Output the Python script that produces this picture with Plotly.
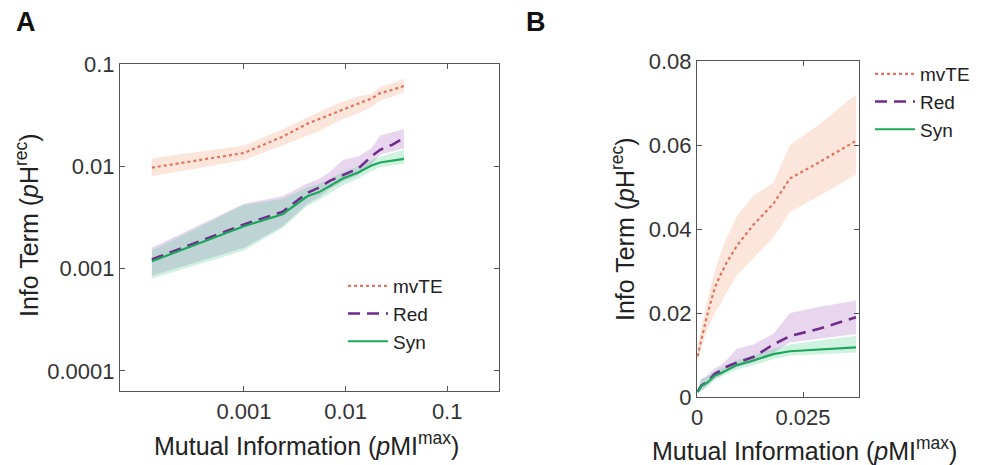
import plotly.graph_objects as go

# ---------------- data ----------------
mi = [0.000124, 0.001, 0.0024, 0.0042, 0.0055, 0.007, 0.0094, 0.0133, 0.018, 0.0219, 0.029, 0.0375]

mvte = [0.0097, 0.0135, 0.0195, 0.026, 0.029, 0.032, 0.036, 0.041, 0.046, 0.052, 0.056, 0.061]
mvte_lo = [0.0080, 0.0115, 0.016, 0.020, 0.022, 0.025, 0.029, 0.033, 0.038, 0.044, 0.048, 0.053]
mvte_hi = [0.0120, 0.0160, 0.023, 0.030, 0.034, 0.038, 0.043, 0.048, 0.051, 0.060, 0.065, 0.072]

red = [0.00123, 0.0027, 0.0036, 0.0055, 0.0062, 0.0072, 0.0082, 0.0095, 0.0125, 0.0145, 0.0163, 0.019]
red_lo = [0.00085, 0.0016, 0.0026, 0.0043, 0.005, 0.006, 0.0071, 0.0082, 0.0105, 0.013, 0.014, 0.015]
red_hi = [0.0016, 0.0043, 0.0051, 0.0068, 0.0075, 0.0088, 0.0115, 0.0125, 0.015, 0.020, 0.0215, 0.023]

syn = [0.00118, 0.0026, 0.0034, 0.0051, 0.0056, 0.0064, 0.0076, 0.0087, 0.0102, 0.0109, 0.0113, 0.0118]
syn_lo = [0.0008, 0.0015, 0.0025, 0.0041, 0.0047, 0.0054, 0.0065, 0.0076, 0.0090, 0.0098, 0.0102, 0.0106]
syn_hi = [0.0015, 0.0042, 0.0048, 0.0062, 0.0067, 0.0075, 0.0088, 0.010, 0.0115, 0.0125, 0.0135, 0.0145]

names = ["mvTE", "Red", "Syn"]
logA_xticks = [0.001, 0.01, 0.1]
logA_xtext = ["0.001", "0.01", "0.1"]
logA_yticks = [0.0001, 0.001, 0.01, 0.1]
logA_ytext = ["0.0001", "0.001", "0.01", "0.1"]
linB_xticks = [0, 0.025]
linB_xtext = ["0", "0.025"]
linB_yticks = [0, 0.02, 0.04, 0.06, 0.08]
linB_ytext = ["0", "0.02", "0.04", "0.06", "0.08"]

# ---------------- styles ----------------
series = [
    (names[0], mvte, mvte_lo, mvte_hi, "#e07460", "dot", 2.2, "rgba(245,170,135,0.30)"),
    (names[1], red, red_lo, red_hi, "#702b8c", "12px,7px", 2.6, "rgba(150,70,180,0.22)"),
    (names[2], syn, syn_lo, syn_hi, "#1da75c", "solid", 2.2, "rgba(40,200,120,0.22)"),
]

FONT = "Liberation Sans, Arial, sans-serif"
W, H = 984, 465
OFF = 8  # page body margin offset


def px(v):
    return (v - OFF) / W


def py(v):
    return 1 - (v - OFF) / H


fig = go.Figure()

for xa, ya, leg in [("x", "y", "legend"), ("x2", "y2", "legend2")]:
    for name, v, lo, hi, col, dash, w, fc in series:
        fig.add_trace(go.Scatter(
            x=mi + mi[::-1], y=hi + lo[::-1], fill="toself", fillcolor=fc,
            line=dict(width=0), mode="lines", hoverinfo="skip",
            showlegend=False, xaxis=xa, yaxis=ya))
    for name, v, lo, hi, col, dash, w, fc in series:
        fig.add_trace(go.Scatter(
            x=mi, y=v, mode="lines", name=name,
            line=dict(color=col, dash=dash, width=w),
            xaxis=xa, yaxis=ya, legend=leg))

axis_common = dict(showline=True, linecolor="#555555", linewidth=1.2, mirror="ticks",
                   ticks="inside", ticklen=5, tickcolor="#555555", showgrid=False,
                   zeroline=False, automargin=False,
                   tickfont=dict(family=FONT, size=22, color="#333333"))

fig.update_layout(
    width=W, height=H, margin=dict(l=0, r=0, t=0, b=0, pad=0, autoexpand=False),
    paper_bgcolor="white", plot_bgcolor="white",
    font=dict(family=FONT, color="#222222"),
    xaxis=dict(type="log", range=[-4.22, -0.49], domain=[px(120), px(499)],
               tickvals=logA_xticks, ticktext=logA_xtext, anchor="y", **axis_common),
    yaxis=dict(type="log", range=[-4.196, -1], domain=[py(391), py(64)],
               tickvals=logA_yticks, ticktext=logA_ytext, anchor="x", **axis_common),
    xaxis2=dict(range=[0, 0.0382], domain=[px(697), px(859)],
                tickvals=linB_xticks, ticktext=linB_xtext, anchor="y2", **axis_common),
    yaxis2=dict(range=[0, 0.08], domain=[py(397), py(61)],
                tickvals=linB_yticks, ticktext=linB_ytext, anchor="x2", **axis_common),
    legend=dict(x=px(343), y=py(267), xanchor="left", yanchor="top",
                bgcolor="rgba(0,0,0,0)", font=dict(family=FONT, size=19, color="#222222"),
                tracegroupgap=0, itemwidth=40),
    legend2=dict(x=px(870), y=py(55), xanchor="left", yanchor="top",
                 bgcolor="rgba(0,0,0,0)", font=dict(family=FONT, size=19, color="#222222"),
                 tracegroupgap=0, itemwidth=40),
    showlegend=True,
)

ann = [
    dict(text="<b>A</b>", x=px(14), y=py(22), font=dict(size=27, color="#111111")),
    dict(text="<b>B</b>", x=px(524), y=py(22), font=dict(size=27, color="#111111")),
    dict(text="Info Term (<i>p</i>H<sup>rec</sup>)", x=px(27), y=py(225),
         textangle=-90, font=dict(size=25, color="#222222"), xanchor="center"),
    dict(text="Mutual Information (<i>p</i>MI<sup>max</sup>)", x=px(306), y=py(444),
         font=dict(size=25, color="#222222"), xanchor="center"),
    dict(text="Info Term (<i>p</i>H<sup>rec</sup>)", x=px(623), y=py(229),
         textangle=-90, font=dict(size=25, color="#222222"), xanchor="center"),
    dict(text="Mutual Information (<i>p</i>MI<sup>max</sup>)", x=px(804), y=py(449),
         font=dict(size=25, color="#222222"), xanchor="center"),
]
for a in ann:
    a.setdefault("xanchor", "left")
    fig.add_annotation(xref="paper", yref="paper", showarrow=False, yanchor="middle",
                       font_family=FONT, **{k: v for k, v in a.items()})

fig.write_html("out.html")
